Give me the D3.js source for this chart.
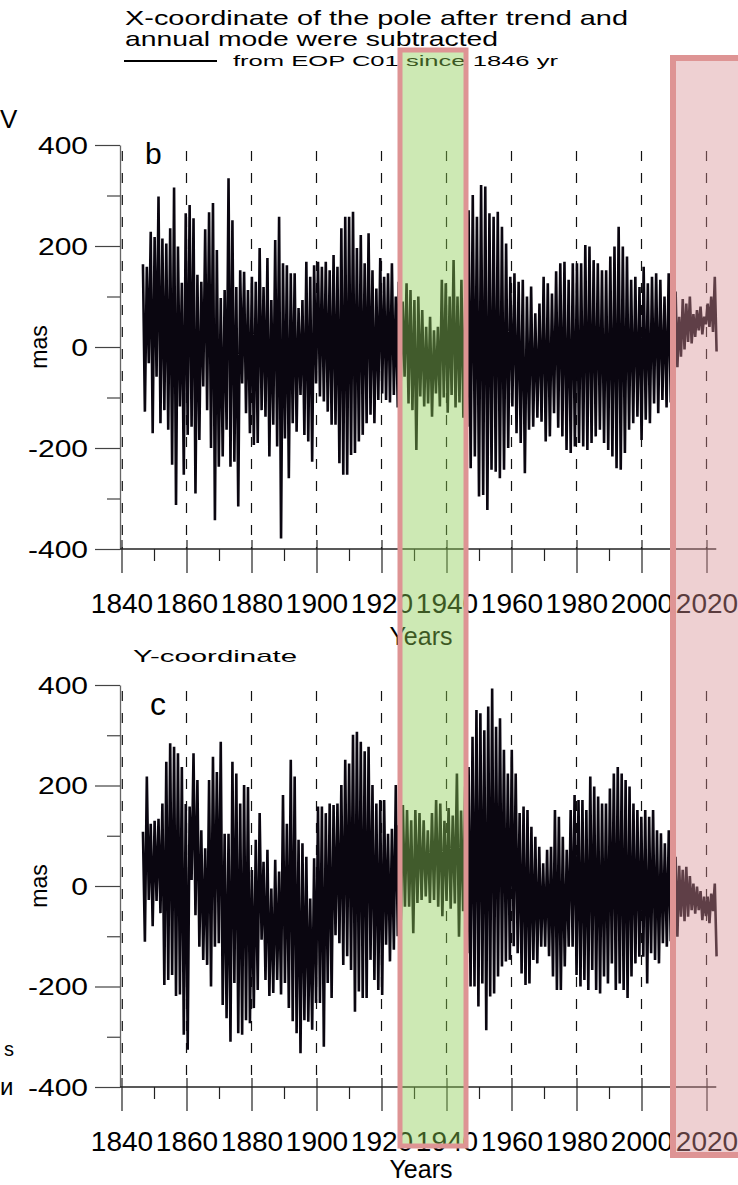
<!DOCTYPE html>
<html>
<head>
<meta charset="utf-8">
<script src="https://cdn.jsdelivr.net/npm/d3@7"></script>
<style>
  body { margin: 0; background: #fff; }
  svg { display: block; font-family: "Liberation Sans", Arial, sans-serif; }
</style>
</head>
<body>
<svg id="chart" width="738" height="1185"></svg>
<script>

// ---- tick labels ----
var xMajor = [1840, 1860, 1880, 1900, 1920, 1940, 1960, 1980, 2000, 2020];
var xMinor = [1850, 1870, 1890, 1910, 1930, 1950, 1970, 1990, 2010];
var yMajor = [-400, -200, 0, 200, 400];
var yMinor = [-300, -100, 100, 300];

// ---- segments of the record (years) ----
var segStart = [1846.6, 1925.3, 1946.8, 2009.4];
var segEnd   = [1925.0, 1946.4, 2009.0, 2023.1];

// ---- X-coordinate, mas: successive maxima / minima ----
var xEarlyHi = [164, 159, 228, 218, 298, 215, 205, 235, 316, 199, 127, 265, 281, 255, 143,
                129, 233, 267, 285, 192, 97, 113, 334, 251, 119, 152, 149, 113, 139, 129,
                196, 119, 176, 93, 212, 258, 166, 162, 146, 146, 77, 93, 169, 139, 162,
                169, 159, 169, 152, 182, 159, 235, 258, 258, 268, 196, 222, 166, 225, 152,
                116, 176, 139, 146, 166, 100];
var xEarlyLo = [-128, -32, -171, -59, -151, -125, -164, -233, -313, -118, -253, -174, -158, -290, -184,
                -78, -125, -200, -343, -237, -217, -164, -237, -227, -316, -72, -131, -171, -194, -190,
                -125, -138, -217, -154, -197, -379, -181, -260, -151, -168, -95, -174, -187, -227, -72,
                -98, -108, -128, -154, -154, -230, -253, -253, -214, -210, -187, -174, -151, -134, -151,
                -105, -92, -105, -110, -95, -120];
var xWarHi = [129, 90, 126, 113, 93, 100, 73, 40, 60, 33, 40, 133, 126, 100, 172, 100, 133, 106];
var xWarLo = [-72, -59, -112, -125, -204, -98, -118, -112, -138, -92, -118, -100, -130, -95, -120, -110, -140, -158];
var xPostHi = [271, 301, 258, 321, 318, 265, 258, 268, 238, 205,
               139, 146, 129, 133, 100, 120, 67, 86, 139, 126, 106, 150,
               166, 169, 133, 166, 166, 166, 202, 199, 172, 166, 152, 152, 179, 199, 238, 199, 179,
               133, 139, 119, 159, 126, 139, 146, 133, 100, 146];
var xPostLo = [-240, -217, -296, -293, -323, -243, -247, -260, -243, -200,
               -118, -171, -190, -250, -164, -158, -140, -148, -187, -177, -131, -160,
               -177, -204, -210, -197, -190, -197, -204, -190, -177, -164, -190, -204, -217, -240, -243, -210, -164,
               -151, -138, -184, -144, -151, -112, -131, -105, -120, -110];
var xRecentHi = [129, 110, 60, 95, 86, 100, 65, 73, 80, 60, 86, 100, 139];
var xRecentLo = [-98, -40, -19, -5, 10, 7, 20, 33, 25, 45, 40, 30, -9];

// ---- Y-coordinate, mas ----
var yEarlyHi = [108, 218, 124, 130, 134, 164, 247, 284, 277, 264, 237, 163, 158, 264, 211,
                111, 75, 211, 257, 227, 287, 104, 104, 247, 224, 164, 201, 197, 32, 92,
                145, 48, 72, -5, 52, 29, 181, 124, 251, 218, 92, 85, 58, -25, 55,
                158, 158, 145, 164, 161, 164, 201, 251, 244, 301, 307, 287, 268, 277, 201,
                164, 171, 171, 104, 114, 201];
var yEarlyLo = [-111, -28, -80, -30, -54, -197, -187, -177, -219, -216, -296, -326, 12, -58, -121,
                -147, -157, -200, -121, -114, -237, -263, -310, -193, -293, -296, -267, -273, -243, -207,
                -107, -187, -219, -213, -187, -216, -193, -243, -269, -293, -333, -267, -270, -286, -233,
                -233, -320, -193, -223, -98, -114, -157, -140, -167, -250, -210, -223, -223, -147, -187,
                -207, -217, -117, -150, -127, -100];
var yWarHi = [121, 161, 151, 131, 151, 145, 131, 111, 145, 171, 164, 130, 155, 140, 224, 150, 198];
var yWarLo = [-68, -41, -41, -94, -34, -28, -21, -34, -28, -41, -60, -30, -45, -35, -101, -50, -134];
var yPostHi = [237, 297, 350, 344, 310, 357, 393, 317, 334, 271, 224, 271, 224,
               145, 158, 151, 118, 98, 78, 45, 72, 78, 151, 138, 98, 72,
               151, 181, 171, 171, 151, 218, 198, 178, 164, 164, 194, 224, 237, 224, 211, 198, 164,
               151, 138, 151, 138, 151, 111, 105, 85, 111];
var yPostLo = [-200, -200, -240, -194, -287, -220, -214, -180, -160, -150, -147, -120, -134,
               -174, -197, -194, -147, -154, -121, -121, -140, -180, -207, -207, -160, -121,
               -121, -177, -200, -187, -207, -167, -207, -214, -180, -194, -154, -207, -194, -207, -223, -180, -154,
               -141, -141, -194, -134, -147, -154, -114, -121, -110];
var yRecentHi = [65, 58, 40, 32, 38, 20, 5, -1, -10, -21, -21, -15, 5];
var yRecentLo = [-134, -101, -61, -70, -61, -48, -55, -48, -68, -60, -74, -50, -140];


var svg = d3.select('#chart');

var x = d3.scaleLinear().domain([1840, 2023]).range([121.5, 716.25]);

// plain hyphen, like the original labels
var fmt = function (d) { return String(d); };

// zip maxima and minima of each segment into one time-ordered list
var buildSeries = function (his, los) {
    var pts = [];
    his.forEach(function (hi, k) {
        var lo = los[k];
        var n = Math.max(hi.length, lo.length);
        var step = (segEnd[k] - segStart[k]) / (n - 0.5);
        for (var i = 0; i < n; i++) {
            if (i < hi.length) pts.push({ t: segStart[k] + i * step, v: hi[i] });
            if (i < lo.length) pts.push({ t: segStart[k] + (i + 0.5) * step, v: lo[i] });
        }
    });
    return pts;
};

var panels = [
    { top: 145, bottom: 549, letter: 'b',
      series: buildSeries([xEarlyHi, xWarHi, xPostHi, xRecentHi], [xEarlyLo, xWarLo, xPostLo, xRecentLo]) },
    { top: 685, bottom: 1087, letter: 'c',
      series: buildSeries([yEarlyHi, yWarHi, yPostHi, yRecentHi], [yEarlyLo, yWarLo, yPostLo, yRecentLo]) }
];

panels.forEach(function (p, idx) {

    var y = d3.scaleLinear().domain([-400, 400]).range([p.bottom, p.top]);
    var g = svg.append('g');

    // dashed vertical grid
    g.selectAll('line.grid')
        .data(xMajor)
        .enter().append('line')
        .attr('class', 'grid')
        .attr('x1', function (d) { return x(d) + (d === 1840 ? 0.8 : 0); })
        .attr('x2', function (d) { return x(d) + (d === 1840 ? 0.8 : 0); })
        .attr('y1', p.top + 6)
        .attr('y2', p.bottom)
        .attr('stroke', '#111')
        .attr('stroke-width', 1.2)
        .attr('stroke-dasharray', '10,12');

    // y axis
    var yAxis = g.append('g')
        .attr('transform', 'translate(120,0)')
        .call(d3.axisLeft(y).tickValues(yMajor).tickSize(25).tickSizeOuter(0)
            .tickPadding(7).tickFormat(fmt));
    yAxis.select('.domain').attr('stroke', '#666').attr('stroke-width', 1.3);
    yAxis.selectAll('.tick line').attr('stroke', '#444').attr('stroke-width', 1.2);
    yAxis.selectAll('.tick text')
        .attr('x', 0)
        .attr('transform', 'translate(-32,0) scale(1.25,1)')
        .attr('dy', '0.34em')
        .attr('fill', '#000')
        .style('font-size', '24px')
        .style('font-family', '"Liberation Sans", Arial, sans-serif');

    var yMin = g.append('g')
        .attr('transform', 'translate(120,0)')
        .call(d3.axisLeft(y).tickValues(yMinor).tickSize(13).tickSizeOuter(0).tickFormat(''));
    yMin.select('.domain').remove();
    yMin.selectAll('.tick line').attr('stroke', '#444').attr('stroke-width', 1.2);

    // x axis
    var xAxis = g.append('g')
        .attr('transform', 'translate(0,' + p.bottom + ')')
        .call(d3.axisBottom(x).tickValues(xMajor).tickSize(24).tickSizeOuter(0)
            .tickPadding(20).tickFormat(fmt));
    xAxis.select('.domain').attr('stroke', '#222').attr('stroke-width', 1.3)
        .attr('d', 'M' + 120 + ',0H' + x(2023));
    xAxis.selectAll('.tick line').attr('y1', -9).attr('stroke', '#222').attr('stroke-width', 1.2);
    xAxis.selectAll('.tick text')
        .attr('fill', '#000')
        .style('font-size', '28px')
        .style('font-family', '"Liberation Sans", Arial, sans-serif');

    var xMin = g.append('g')
        .attr('transform', 'translate(0,' + p.bottom + ')')
        .call(d3.axisBottom(x).tickValues(xMinor).tickSize(12).tickSizeOuter(0).tickFormat(''));
    xMin.select('.domain').remove();
    xMin.selectAll('.tick line').attr('stroke', '#222').attr('stroke-width', 1.2);

    g.append('text')
        .attr('x', 421)
        .attr('y', p.bottom + (idx === 0 ? 96 : 91))
        .attr('text-anchor', 'middle')
        .style('font-size', '25px')
        .text('Years');

    g.append('text')
        .attr('transform', 'translate(47,' + y(0) + ') rotate(-90)')
        .attr('text-anchor', 'middle')
        .style('font-size', '23px')
        .text('mas');

    g.append('text')
        .attr('x', idx === 0 ? 145 : 150)
        .attr('y', idx === 0 ? 164 : 715)
        .style('font-size', idx === 0 ? '30px' : '32px')
        .text(p.letter);

    // the series
    var line = d3.line()
        .x(function (d) { return x(d.t); })
        .y(function (d) { return y(d.v); });

    g.append('path')
        .datum(p.series)
        .attr('d', line)
        .attr('fill', 'none')
        .attr('stroke', '#0a0610')
        .attr('stroke-width', 2.6)
        .attr('stroke-linejoin', 'miter');
});

// titles
svg.append('text').attr('x', 125).attr('y', 25)
    .attr('textLength', 503).attr('lengthAdjust', 'spacingAndGlyphs')
    .style('font-size', '21px')
    .text('X-coordinate of the pole  after trend and');
svg.append('text').attr('x', 125).attr('y', 46)
    .attr('textLength', 373).attr('lengthAdjust', 'spacingAndGlyphs')
    .style('font-size', '21px')
    .text('annual mode were subtracted');
svg.append('line')
    .attr('x1', 124).attr('x2', 217).attr('y1', 61).attr('y2', 61)
    .attr('stroke', '#000').attr('stroke-width', 2);
svg.append('text').attr('x', 233).attr('y', 66)
    .attr('textLength', 325).attr('lengthAdjust', 'spacingAndGlyphs')
    .style('font-size', '15px')
    .text('from EOP C01 since 1846 yr');
svg.append('text').attr('x', 133).attr('y', 662)
    .attr('textLength', 164).attr('lengthAdjust', 'spacingAndGlyphs')
    .style('font-size', '17px')
    .text('Y-coordinate');

// remnants of the neighbouring figure at the left edge
svg.append('text').attr('x', 0).attr('y', 128).style('font-size', '26px').text('V');
svg.append('text').attr('x', 4).attr('y', 1056).style('font-size', '20px').text('s');
svg.append('text').attr('x', 0).attr('y', 1095).style('font-size', '24px').text('и');

// highlighted periods
svg.append('rect')
    .attr('x', 400).attr('y', 50).attr('width', 66).attr('height', 1096)
    .attr('fill', 'rgb(140,205,80)').attr('fill-opacity', 0.43)
    .attr('stroke', 'rgb(222,148,148)').attr('stroke-width', 5);
svg.append('rect')
    .attr('x', 673).attr('y', 58).attr('width', 90).attr('height', 1097)
    .attr('fill', 'rgb(214,143,148)').attr('fill-opacity', 0.42)
    .attr('stroke', 'rgb(222,148,148)').attr('stroke-width', 6);

</script>
</body>
</html>
